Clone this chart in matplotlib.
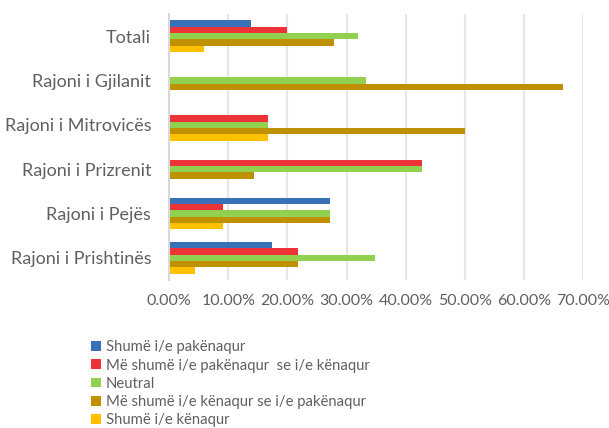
import numpy as np
import matplotlib.pyplot as plt
from matplotlib.ticker import FuncFormatter

categories = ['Totali', 'Rajoni i Gjilanit', 'Rajoni i Mitrovicës',
              'Rajoni i Prizrenit', 'Rajoni i Pejës', 'Rajoni i Prishtinës']
series_names = ['Shumë i/e pakënaqur', 'Më shumë i/e pakënaqur  se i/e kënaqur',
                'Neutral', 'Më shumë i/e kënaqur se i/e pakënaqur', 'Shumë i/e kënaqur']
shume_pakenaqur = [13.9, 0, 0, 0, 27.27, 17.39]
me_pakenaqur = [19.9, 0, 16.67, 42.86, 9.09, 21.74]
neutral = [31.9, 33.33, 16.67, 42.86, 27.27, 34.78]
me_kenaqur = [27.9, 66.67, 50.0, 14.29, 27.27, 21.74]
shume_kenaqur = [5.9, 0, 16.67, 0, 9.09, 4.35]
colors = ['#3A70B8', '#EE3338', '#92D050', '#BF9000', '#FFC000']

values = [shume_pakenaqur, me_pakenaqur, neutral, me_kenaqur, shume_kenaqur]

plt.rcParams['font.family'] = ['Lato', 'DejaVu Sans']
fig = plt.figure(figsize=(6.09, 4.28), dpi=100)
ax = fig.add_axes([0.278, 0.346, 0.679, 0.621])

y = np.arange(len(categories))
h = 0.144
for i, (vals, name, c) in enumerate(zip(values, series_names, colors)):
    ax.barh(y + (i - 2) * h, vals, height=h, color=c, label=name)

ax.set_ylim(5.5, -0.5)
ax.set_xlim(0, 70)
ax.set_xticks(np.arange(0, 71, 10))
ax.xaxis.set_major_formatter(FuncFormatter(lambda v, p: '%.2f%%' % v))
ax.set_yticks(y)
ax.set_yticklabels(categories)
ax.grid(axis='x', color='#E6E6E6', linewidth=1.5)
ax.set_axisbelow(True)
for s in ['top', 'right', 'bottom']:
    ax.spines[s].set_visible(False)
ax.spines['left'].set_color('#D9D9D9')
ax.spines['left'].set_linewidth(1.5)
ax.tick_params(axis='both', length=0, colors='#606060')
ax.tick_params(axis='x', pad=10, labelsize=11.5)
ax.tick_params(axis='y', pad=13, labelsize=13)

fig.legend(loc='upper left', bbox_to_anchor=(0.138, 0.222), frameon=False,
           fontsize=10.7, labelcolor='#606060', handlelength=0.65, handleheight=0.65,
           handletextpad=0.3, labelspacing=0.28, borderpad=0)

fig.savefig('out.png', dpi=100)
